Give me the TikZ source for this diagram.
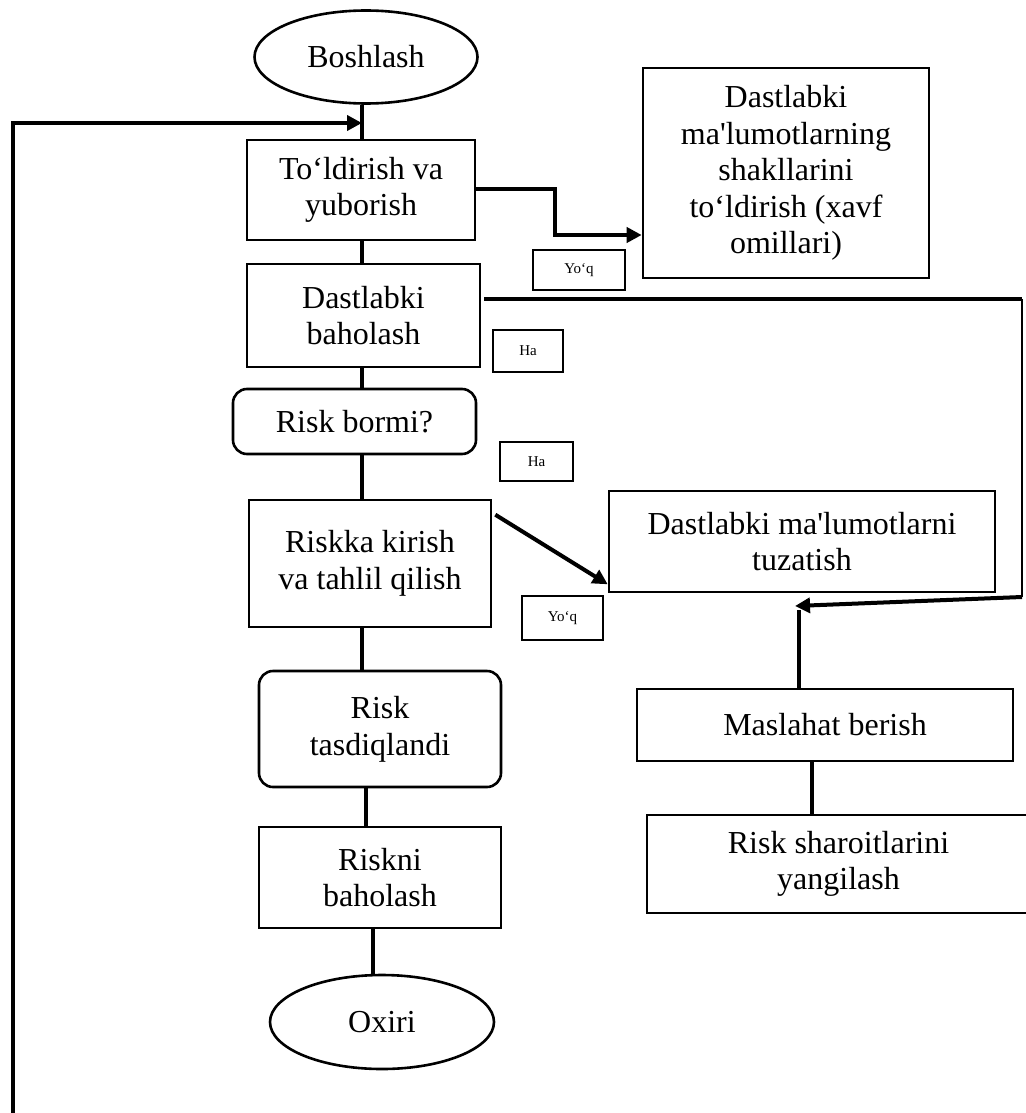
\documentclass[tikz,border=0pt]{standalone}
\usepackage{fontspec}
\setmainfont{Liberation Serif}[Ligatures=TeXOff]
\usetikzlibrary{shapes.geometric,arrows.meta}
\tikzset{
  procbox/.style={draw, line width=1.3pt, align=center, inner sep=0pt,
    font=\fontsize{16}{18.3}\selectfont},
  roundbox/.style={procbox, rounded corners=7pt},
  termnode/.style={procbox, ellipse},
  tagbox/.style={draw, line width=1.2pt, inner sep=0pt,
    font=\fontsize{7.5}{9}\selectfont},
  link/.style={line width=2pt},
  arrowlink/.style={link, -{Triangle[length=7.5pt,width=7.5pt]}}
}

\begin{document}
\begin{tikzpicture}[x=0.5pt,y=-0.5pt]
  \useasboundingbox (0,0) rectangle (1026,1113);
  % Main column
  \node[termnode, minimum width=111.5pt, minimum height=46.5pt] (start) at (366,57) {Boshlash};
  \node[procbox, minimum width=114pt, minimum height=50pt] (fill) at (361,190) {To‘ldirish va\\yuborish};
  \node[procbox, minimum width=116.5pt, minimum height=51.5pt] (assess) at (363.5,315.5) {Dastlabki\\baholash};
  \node[roundbox, minimum width=121.5pt, minimum height=32.5pt] (riskq) at (354.5,421.5) {Risk bormi?};
  \node[procbox, minimum width=121pt, minimum height=63.5pt] (riskka) at (370,563.5) {Riskka kirish\\va tahlil qilish};
  \node[roundbox, minimum width=121pt, minimum height=58pt] (tasdiq) at (380,729) {Risk\\tasdiqlandi};
  \node[procbox, minimum width=121pt, minimum height=50.5pt] (riskni) at (380,877.5) {Riskni\\baholash};
  \node[termnode, minimum width=112pt, minimum height=47pt] (finish) at (382,1022) {Oxiri};
  % Right column
  \node[procbox, minimum width=143pt, minimum height=105pt] (input) at (786,173) {Dastlabki\\ma'lumotlarning\\shakllarini\\to‘ldirish (xavf\\omillari)};
  \node[procbox, minimum width=193pt, minimum height=50.5pt] (tuzatish) at (802,541.5) {Dastlabki ma'lumotlarni\\tuzatish};
  \node[procbox, minimum width=188pt, minimum height=36pt] (maslahat) at (825,725) {Maslahat berish};
  \node[procbox, minimum width=191.5pt, minimum height=49pt] (sharoit) at (838.5,864) {Risk sharoitlarini\\yangilash};
  % Answer tags
  \node[tagbox, minimum width=46pt, minimum height=20pt] (yoq1) at (579,270) {Yo‘q};
  \node[tagbox, minimum width=35pt, minimum height=21pt] (ha1) at (528,351) {Ha};
  \node[tagbox, minimum width=36.5pt, minimum height=19.5pt] (ha2) at (536.5,461.5) {Ha};
  \node[tagbox, minimum width=40.5pt, minimum height=22pt] (yoq2) at (562.5,618) {Yo‘q};
  % Helper points
  \coordinate (trunk) at (362,0);
  \coordinate (trunkb) at (366,0);
  \coordinate (trunkc) at (373,0);
  \coordinate (entry) at (362,123);
  \coordinate (loopbot) at (13,1113);
  \coordinate (bend) at (555,235);
  \coordinate (rtop) at (1022,299);
  \coordinate (rbot) at (1022,597);
  \coordinate (fbtip) at (795,606);
  \coordinate (mtop) at (799,610);
  % Connectors
  \draw[link] (start.south -| trunk) -- (fill.north -| trunk);
  \draw[arrowlink] (loopbot) |- (entry);
  \draw[arrowlink] (fill.east |- 0,189) -| (bend) -- (bend -| input.west);
  \draw[link] (fill.south -| trunk) -- (assess.north -| trunk);
  \draw[link] (assess.south -| trunk) -- (riskq.north -| trunk);
  \draw[link] (riskq.south -| trunk) -- (riskka.north -| trunk);
  \draw[link] (riskka.south -| trunk) -- (tasdiq.north -| trunk);
  \draw[link] (tasdiq.south -| trunkb) -- (riskni.north -| trunkb);
  \draw[link] (riskni.south -| trunkc) -- (finish.north -| trunkc);
  \draw[arrowlink] ([xshift=1.5pt,yshift=-8pt]riskka.north east) -- ([yshift=4.5pt]tuzatish.south west);
  \draw[link] (assess.east |- rtop) ++(3,0) -- (rtop);
  \draw[line width=1pt] (rtop) -- (rbot);
  \draw[arrowlink] (rbot) -- (fbtip);
  \draw[link] (maslahat.north -| mtop) -- (mtop);
  \draw[link] (maslahat.south -| 812,0) -- (sharoit.north -| 812,0);
\end{tikzpicture}
\end{document}
